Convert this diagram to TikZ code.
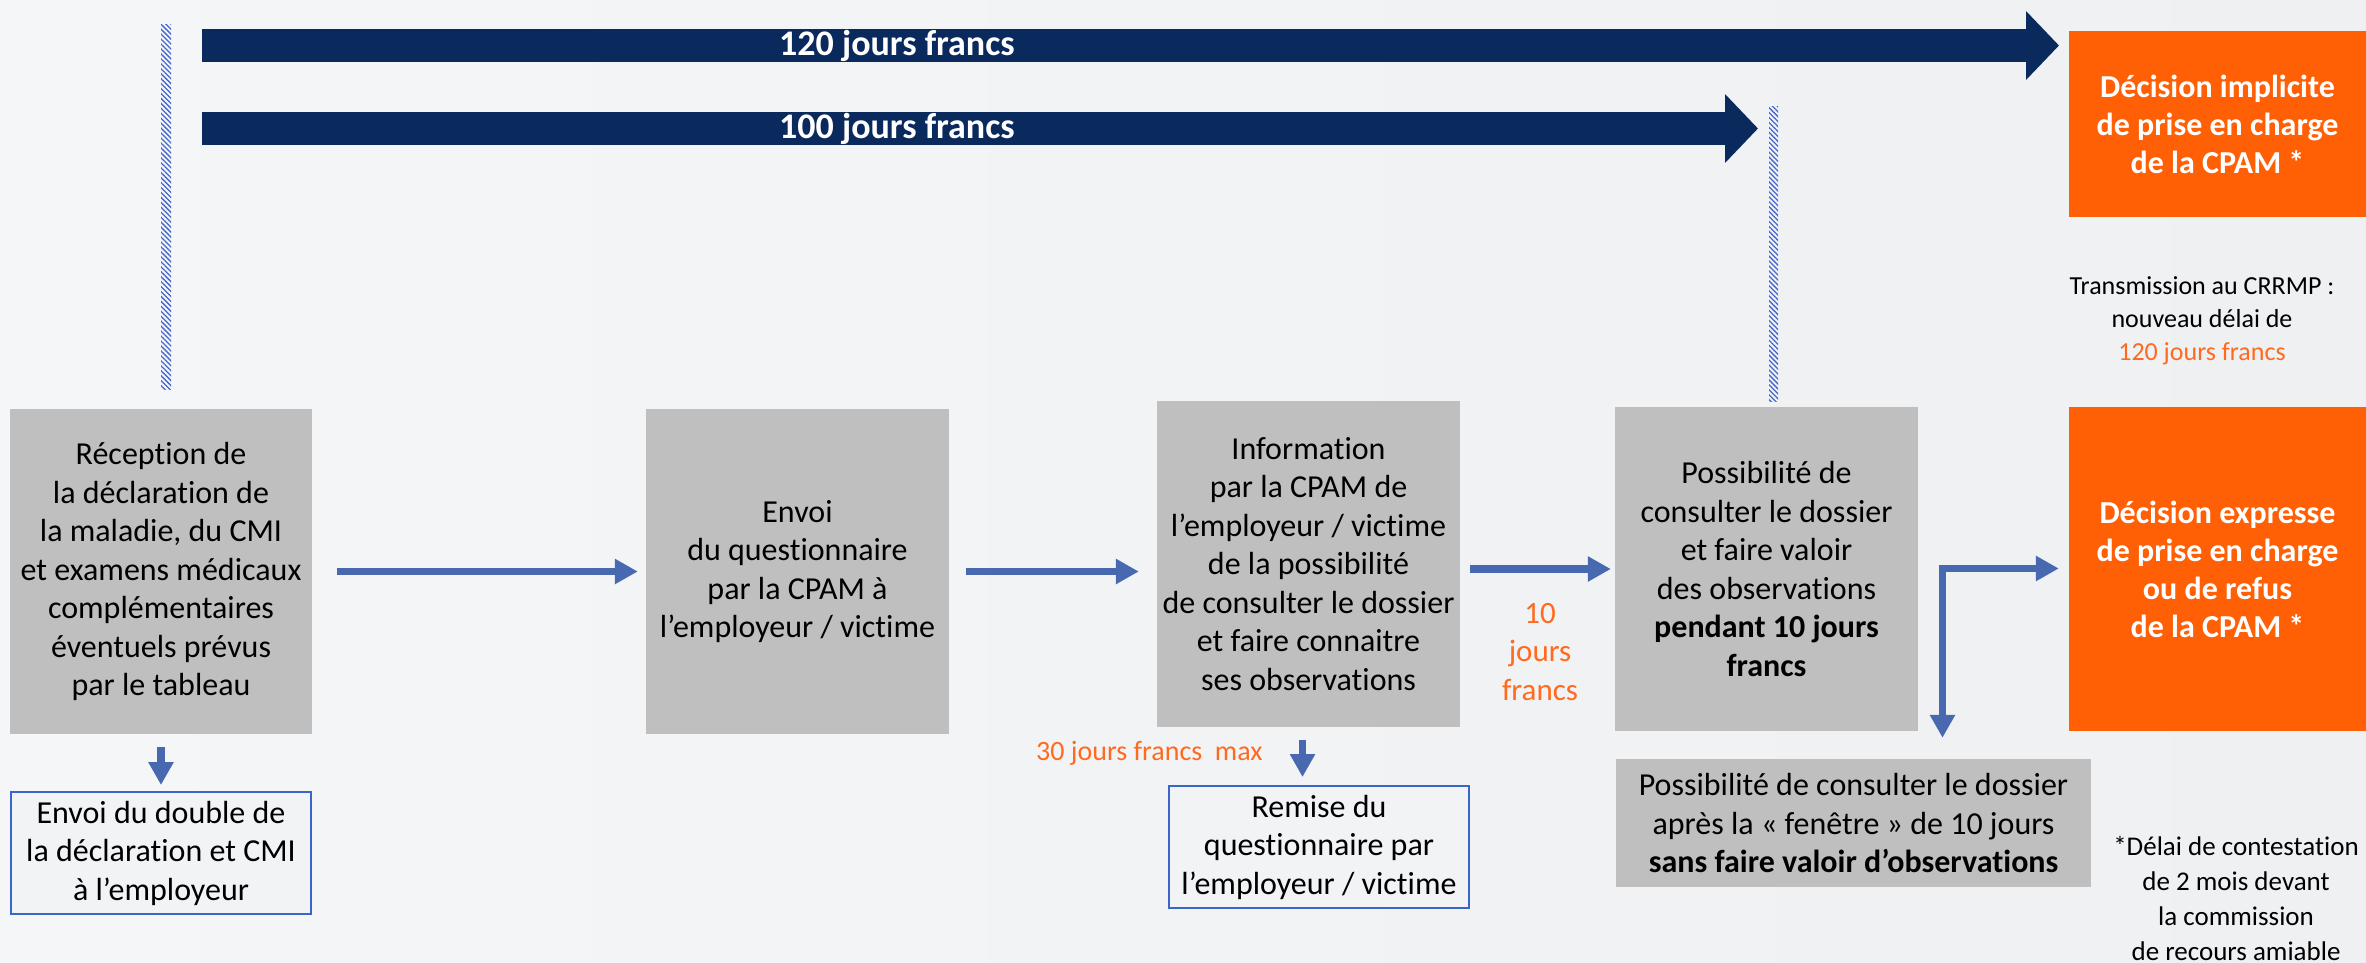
\documentclass[tikz,border=0pt]{standalone}
\usepackage{fontspec}
\setmainfont{Carlito}[Ligatures=NoCommon]
\usetikzlibrary{arrows.meta,patterns.meta,calc}
\definecolor{bg}{HTML}{F1F3F5}
\definecolor{bgl}{HTML}{F5F6F7}
\definecolor{bgr}{HTML}{EEF0F2}
\definecolor{navy}{HTML}{0A2A5E}
\definecolor{orfill}{HTML}{FF5F05}
\definecolor{ortext}{HTML}{FF6A1F}
\definecolor{greybox}{HTML}{BFBFBF}
\definecolor{arrowblue}{HTML}{4868B0}
\definecolor{boxblue}{HTML}{3A66CC}
\definecolor{hatch}{HTML}{4466CC}
\begin{document}
\begin{tikzpicture}[x=1pt,y=-1pt,
  txt/.style={align=center,font=\fontsize{32}{38.5}\selectfont,inner sep=0pt},
  greyst/.style={txt,fill=greybox,minimum width=303pt,minimum height=325pt},
  orangest/.style={txt,fill=orfill,text=white,font=\bfseries\fontsize{32}{38}\selectfont,minimum width=297pt},
  bluest/.style={txt,draw=boxblue,line width=2pt,fill=bg,minimum width=300pt,minimum height=122pt},
  barrow/.style={draw=arrowblue,line width=7.5pt,-{Triangle[width=24pt,length=23pt]}},
  navybar/.style={draw=navy,line width=33pt,-{Triangle[width=67pt,length=33pt]}},
  bartext/.style={text=white,font=\bfseries\fontsize{36}{40}\selectfont,inner sep=0pt,anchor=west},
  hatchst/.style={pattern={Lines[angle=-45,distance=3.5pt,line width=1.3pt]},pattern color=hatch}
]
\useasboundingbox (0,0) rectangle (2366,962);
\shade[left color=bgl,right color=bgr] (0,0) rectangle (2366,962);

% hatched markers
\fill[hatchst] (161,24) rectangle (171,389);
\fill[hatchst] (1769,106) rectangle (1778,401);

% top bars
\coordinate (s1) at (202,45.5);
\coordinate (e1) at (2059,45.5);
\coordinate (s2) at (202,128.5);
\coordinate (e2) at (1758,128.5);
\draw[navybar] (s1) -- (e1);
\draw[navybar] (s2) -- (e2);
\node[bartext] (t120) at (779,46) {120 jours francs};
\node[bartext] (t100) at (779,129) {100 jours francs};

% boxes
\node[greyst,minimum width=302pt] (g1) at (161,571.5) {Réception de\\la déclaration de\\la maladie, du CMI\\et examens médicaux\\complémentaires\\éventuels prévus\\par le tableau};
\node[greyst] (g2) at (797.5,571.5) {Envoi\\du questionnaire\\par la CPAM à\\l’employeur / victime};
\node[greyst,minimum height=326pt] (g3) at (1308.5,564) {Information\\par la CPAM de\\l’employeur / victime\\de la possibilité\\de consulter le dossier\\et faire connaitre\\ses observations};
\node[greyst,minimum height=324pt] (g4) at (1766.5,569) {Possibilité de\\consulter le dossier\\et faire valoir\\des observations\\\textbf{pendant 10 jours}\\\textbf{francs}};
\node[orangest,minimum height=186pt] (o1) at (2217.5,124) {Décision implicite\\de prise en charge\\de la CPAM *};
\node[orangest,minimum height=324pt] (o2) at (2217.5,569) {Décision expresse\\de prise en charge\\ou de refus\\de la CPAM *};
\node[bluest] (b1) at (161,853) {Envoi du double de\\la déclaration et CMI\\à l’employeur};
\node[bluest] (b2) at (1319,847) {Remise du\\questionnaire par\\l’employeur / victime};
\node[greyst,minimum width=475pt,minimum height=128pt] (g5) at (1853.5,823) {Possibilité de consulter le dossier\\après la « fenêtre » de 10 jours\\\textbf{sans faire valoir d’observations}};

% side texts
\node[align=center,font=\fontsize{26}{33}\selectfont,inner sep=0pt] (trans) at (2202,321) {Transmission au CRRMP :\\nouveau délai de\\\textcolor{ortext}{120 jours francs}};
\node[align=center,font=\fontsize{27}{35}\selectfont,inner sep=0pt] (foot) at (2236,898) {*Délai de contestation\\de 2 mois devant\\la commission\\de recours amiable};
\node[text=ortext,font=\fontsize{28}{34}\selectfont,inner sep=0pt,anchor=west] (thirty) at (1036,753) {30 jours francs~ max};
\node[text=ortext,align=center,font=\fontsize{31}{38.5}\selectfont,inner sep=0pt] (ten) at (1540,652) {10\\jours\\francs};

% connectors
\draw[barrow,shorten <=25pt,shorten >=8pt] (g1.east) -- (g2.west);
\draw[barrow,shorten <=17pt,shorten >=18pt] (g2.east) -- (g2.east -| g3.west);
\draw[barrow,shorten <=10pt,shorten >=4pt] (g3.east |- g4.west) -- (g4.west);
\coordinate (c) at (1942.5,568.5);
\draw[draw=arrowblue,line width=7.5pt,{Triangle[width=24pt,length=23pt]}-{Triangle[width=24pt,length=23pt]},shorten <=21pt,shorten >=10pt] (c |- g5.north) -- (c) -- (o2.west |- c);
\draw[barrow,shorten <=13pt,shorten >=6pt] (g1.south) -- (b1.north);
\coordinate (d3) at ($(g3.south)+(-6,0)$);
\draw[barrow,shorten <=13pt,shorten >=8pt] (d3) -- (d3 |- b2.north);
\end{tikzpicture}
\end{document}
